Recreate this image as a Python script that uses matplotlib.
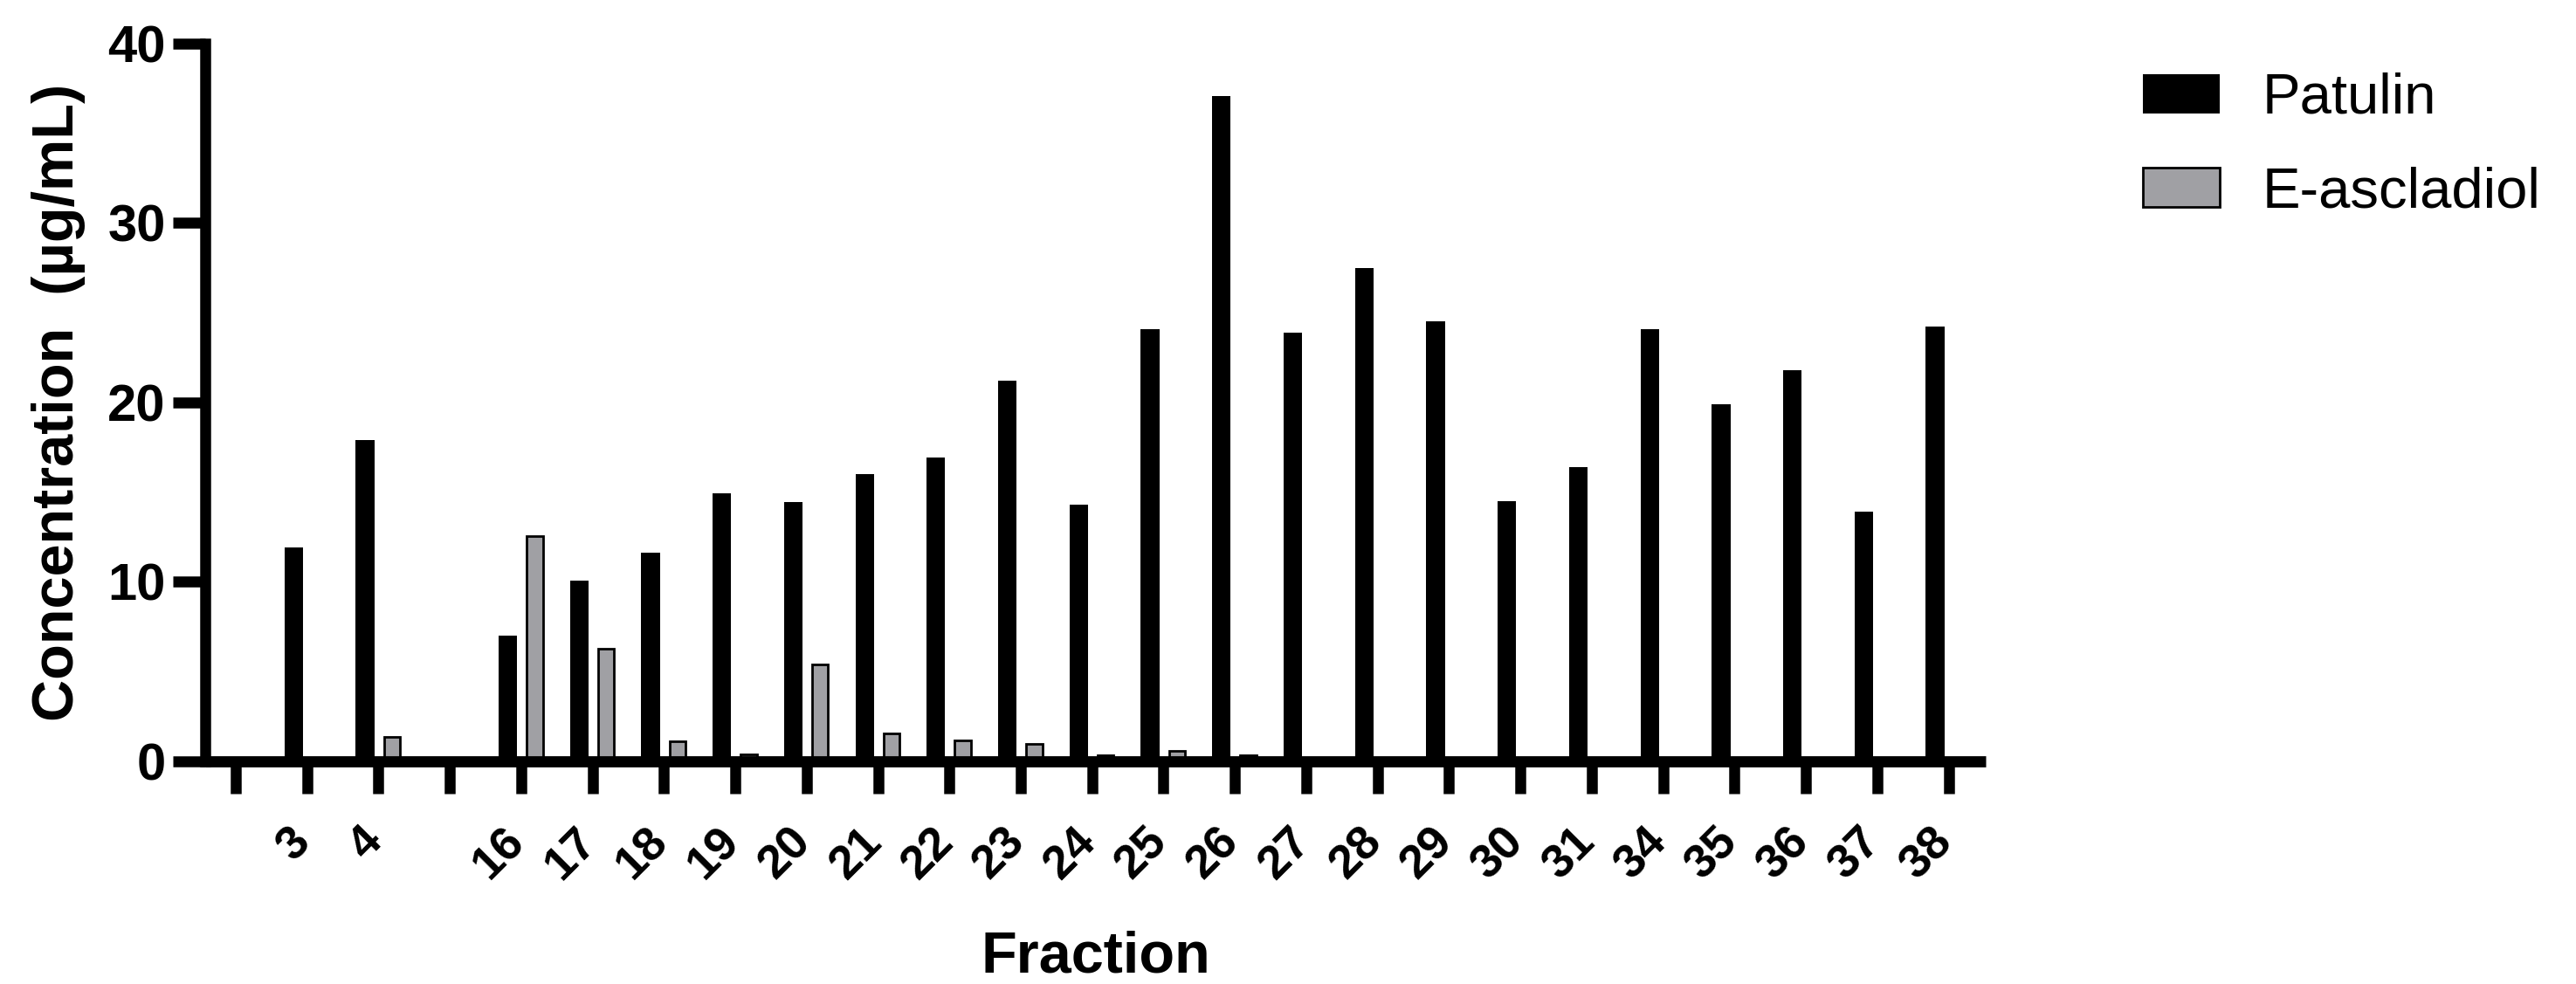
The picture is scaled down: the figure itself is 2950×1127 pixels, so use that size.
import numpy as np
import matplotlib
matplotlib.use("Agg")
import matplotlib.pyplot as plt
from matplotlib.transforms import ScaledTranslation
from matplotlib.patches import Patch

# ---- data ----
fractions = ["", "3", "4", "", "16", "17", "18", "19", "20", "21", "22", "23",
             "24", "25", "26", "27", "28", "29", "30", "31", "34", "35", "36", "37", "38"]
patulin = [0, 11.9, 17.9, 0, 7.0, 10.05, 11.63, 14.9, 14.45, 16.0, 16.9, 21.2,
           14.3, 24.1, 37.1, 23.9, 27.5, 24.5, 14.5, 16.4, 24.1, 19.9, 21.8, 13.9, 24.2]
e_ascladiol = [0, 0, 1.35, 0, 12.55, 6.27, 1.08, 0.35, 5.36, 1.54, 1.12, 0.97,
               0.3, 0.55, 0.3, 0, 0, 0, 0, 0, 0, 0, 0, 0, 0]
series_names = ["Patulin", "E-ascladiol"]
y_ticks = [0, 10, 20, 30, 40]

W, H, DPI = 2950, 1127, 100
plt.rcParams['font.family'] = ['Liberation Sans', 'DejaVu Sans']

fig = plt.figure(figsize=(W / DPI, H / DPI), dpi=DPI)
ax_l, ax_r, ax_b, ax_t = 235, 2274, 871.5, 50
ax = fig.add_axes([ax_l / W, 1 - ax_b / H, (ax_r - ax_l) / W, (ax_b - ax_t) / H])

x = np.arange(len(fractions))
black = "#000000"
gray = "#a0a0a4"
ax.bar(x - 0.1885, patulin, width=0.26, color=black, linewidth=0, zorder=2)
e_vals = np.array(e_ascladiol, dtype=float)
mask = e_vals > 0
ax.bar(x[mask] + 0.1885, e_vals[mask], width=0.226, color=gray, edgecolor=black,
       linewidth=2.0, zorder=2)

ax.set_xlim(-0.428, 24.52)
ax.set_ylim(0, 40)

for s in ["top", "right"]:
    ax.spines[s].set_visible(False)
ax.spines["left"].set_linewidth(9)
ax.spines["bottom"].set_linewidth(9.2)
ax.spines["left"].set_capstyle("projecting")
ax.spines["bottom"].set_capstyle("butt")
ax.spines["bottom"].set_zorder(3)

ax.set_yticks(y_ticks)
ax.set_yticklabels([str(v) for v in y_ticks], fontsize=43, fontweight="bold")
ax.tick_params(axis="y", length=26.6, width=9, pad=6, direction="out")

ax.set_xticks(x)
ax.set_xticklabels(fractions, fontsize=39, fontweight="bold", rotation=45,
                   ha="right", va="top")
ax.tick_params(axis="x", length=26.3, width=9, pad=22, direction="out")
offset = ScaledTranslation(14 / DPI, 0, fig.dpi_scale_trans)
for lab in ax.get_xticklabels():
    lab.set_transform(lab.get_transform() + offset)

ax.set_ylabel("Concentration  (µg/mL)", fontsize=48, fontweight="bold", va="baseline")
ax.yaxis.set_label_coords((84 - ax_l) / (ax_r - ax_l), 0.5)
ax.set_xlabel("Fraction", fontsize=48, fontweight="bold", va="baseline")
ax.xaxis.set_label_coords(0.5, (ax_b - 1113.3) / (ax_b - ax_t))

handles = [Patch(facecolor=black, edgecolor=black, linewidth=0, label=series_names[0]),
           Patch(facecolor=gray, edgecolor=black, linewidth=2.0, label=series_names[1])]
ax.legend(handles=handles, loc="upper left", bbox_to_anchor=(2454 / W, 1 - 83 / H),
          bbox_transform=fig.transFigure, frameon=False, fontsize=47,
          handlelength=1.35, handleheight=0.69, handletextpad=0.75,
          labelspacing=0.72, borderpad=0, borderaxespad=0)

fig.savefig("out.png", dpi=DPI)
